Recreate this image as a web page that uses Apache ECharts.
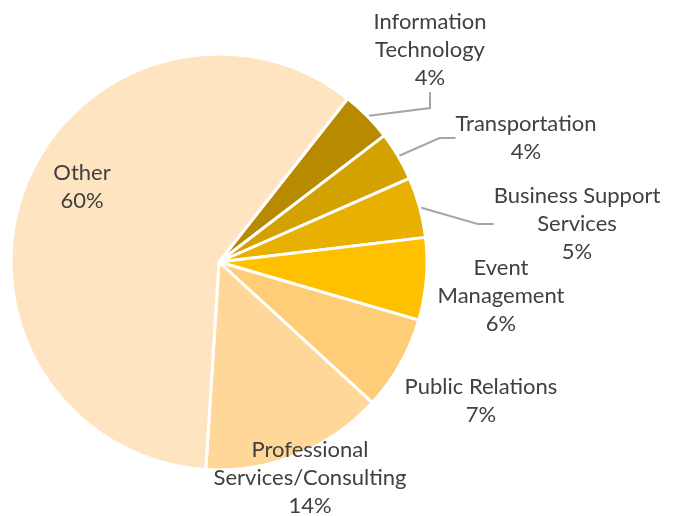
<!DOCTYPE html>
<html>
<head>
<meta charset="utf-8">
<script src="https://cdn.jsdelivr.net/npm/echarts@6/dist/echarts.min.js"></script>
<style>
  html, body { margin: 0; padding: 0; background: #fff; }
  #chart { width: 676px; height: 516px; }
</style>
</head>
<body>
<div id="chart"></div>
<script>
// 分类与数值（百分比）
var categories = ['Information\nTechnology', 'Transportation', 'Business Support\nServices', 'Event\nManagement', 'Public Relations', 'Professional\nServices/Consulting', 'Other'];
var shares = [4.0, 3.8, 4.7, 6.4, 7.3, 14.2, 59.6];
var sliceColors = ['#B78A00', '#D3A100', '#E8B000', '#FFC000', '#FFCD77', '#FFD899', '#FFE4C2'];
// label centres (px)
var labelSpots = [[430, 50], [526, 138], [577, 224], [501, 296], [481, 401], [310, 478], [82, 187]];
var leader = [true, true, true, false, false, false, false];

var myChart = echarts.init(document.getElementById('chart'));

var option = {
  animation: false,
  series: [{
    type: 'pie',
    center: [219, 262],
    radius: 208,
    startAngle: 51.8,
    clockwise: true,
    avoidLabelOverlap: false,
    itemStyle: { borderColor: '#fff', borderWidth: 3 },
    label: {
      show: true,
      position: 'outside',
      fontFamily: 'Lato',
      fontSize: 22,
      lineHeight: 28,
      color: '#404040',
      align: 'center',
      formatter: function (p) { return p.name + '\n' + Math.round(p.value) + '%'; }
    },
    labelLine: { show: true, length: 18, length2: 16, lineStyle: { color: '#A6A6A6', width: 2 } },
    labelLayout: function (p) {
      var s = labelSpots[p.dataIndex];
      return { x: s[0], y: s[1], align: 'center', verticalAlign: 'middle' };
    },
    data: categories.map(function (c, i) {
      return {
        name: c,
        value: shares[i],
        itemStyle: { color: sliceColors[i] },
        labelLine: { show: leader[i] }
      };
    })
  }]
};

myChart.setOption(option);
</script>
</body>
</html>
